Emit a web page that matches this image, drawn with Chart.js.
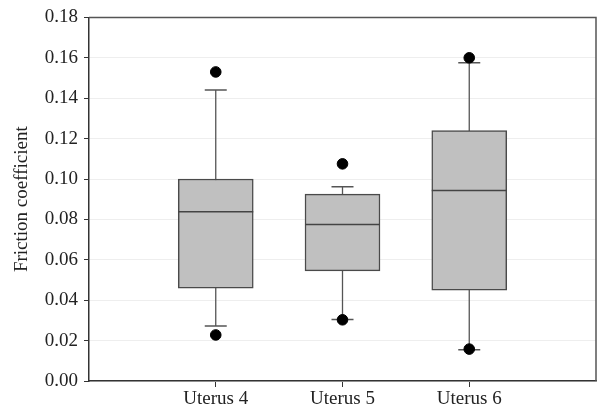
<!DOCTYPE html>
<html>
<head>
<meta charset="utf-8">
<script src="https://cdn.jsdelivr.net/npm/chart.js@4/dist/chart.umd.min.js"></script>
<style>
  html, body { margin: 0; padding: 0; background: #fff; }
  #wrap { width: 600px; height: 412px; }
</style>
</head>
<body>
<div id="wrap"><canvas id="boxChart"></canvas></div>
<script>
// ==========================
// DATA
// ==========================
const categories = ["Uterus 4", "Uterus 5", "Uterus 6"];
const positions = [1, 2, 3];
const q1 = [0.046, 0.0545, 0.045];
const q3 = [0.100, 0.0925, 0.124];
const medians = [0.0838, 0.0775, 0.0943];
const whiskerLow = [0.0272, 0.0305, 0.0155];
const whiskerHigh = [0.144, 0.0962, 0.1575];
const outliersLow = [0.0228, 0.0303, 0.0158];
const outliersHigh = [0.153, 0.1075, 0.160];
const yTicks = [0, 0.02, 0.04, 0.06, 0.08, 0.10, 0.12, 0.14, 0.16, 0.18];

// ==========================
// BUILD DATASETS
// ==========================
const boxes = positions.map((x, i) => ({ x: x, y: [q1[i], q3[i]] }));
const medianPts = positions.map((x, i) => ({ x: x, y: medians[i] }));

// whiskers: one vertical segment per box, null splits them
const whiskerLine = [];
positions.forEach((x, i) => {
  whiskerLine.push({ x: x, y: whiskerLow[i] });
  whiskerLine.push({ x: x, y: whiskerHigh[i] });
  whiskerLine.push({ x: x, y: null });
});

const caps = [];
positions.forEach((x, i) => {
  caps.push({ x: x, y: whiskerLow[i] });
  caps.push({ x: x, y: whiskerHigh[i] });
});

const outliers = [];
positions.forEach((x, i) => {
  outliers.push({ x: x, y: outliersLow[i] });
  outliers.push({ x: x, y: outliersHigh[i] });
});

// frame around the plot (top + right edges)
const frame = {
  id: "frame",
  afterDatasetsDraw(chart) {
    const a = chart.chartArea;
    const c = chart.ctx;
    c.save();
    c.strokeStyle = "#555";
    c.lineWidth = 1.5;
    c.beginPath();
    c.moveTo(a.left, a.top);
    c.lineTo(a.right, a.top);
    c.lineTo(a.right, a.bottom);
    c.stroke();
    c.restore();
  }
};

const serif = "'Liberation Serif', 'Times New Roman', serif";

new Chart(document.getElementById("boxChart"), {
  data: {
    datasets: [
      {
        type: "line",
        data: whiskerLine,
        borderColor: "#555",
        borderWidth: 1.3,
        pointRadius: 0,
        spanGaps: false,
        order: 4
      },
      {
        type: "bar",
        data: boxes,
        backgroundColor: "#c0c0c0",
        borderColor: "#4a4a4a",
        borderWidth: 1.5,
        borderSkipped: false,
        barThickness: 75,
        order: 3
      },
      {
        type: "scatter",
        data: medianPts,
        pointStyle: "line",
        pointRadius: 37.5,
        borderColor: "#444",
        pointBorderWidth: 1.5,
        order: 2
      },
      {
        type: "scatter",
        data: caps,
        pointStyle: "line",
        pointRadius: 11,
        borderColor: "#555",
        pointBorderWidth: 1.5,
        order: 2
      },
      {
        type: "scatter",
        data: outliers,
        pointStyle: "circle",
        pointRadius: 5.3,
        backgroundColor: "#000",
        borderColor: "#000",
        order: 1
      }
    ]
  },
  options: {
    responsive: true,
    maintainAspectRatio: false,
    animation: false,
    events: [],
    layout: { autoPadding: false, padding: { top: 16, right: 4, left: 11, bottom: 0 } },
    plugins: {
      legend: { display: false },
      tooltip: { enabled: false }
    },
    scales: {
      x: {
        type: "linear",
        min: 0,
        max: 4,
        offset: false,
        afterBuildTicks: s => { s.ticks = positions.map(v => ({ value: v })); },
        afterFit: s => { s.height = 31; },
        ticks: {
          callback: v => categories[positions.indexOf(v)] || "",
          color: "#222",
          font: { family: serif, size: 19 },
          padding: 1,
          maxRotation: 0
        },
        grid: { offset: false, drawOnChartArea: false, drawTicks: true, tickLength: 6, color: "#333" },
        border: { color: "#333", width: 1.5 }
      },
      y: {
        min: 0,
        max: 0.18,
        afterBuildTicks: s => { s.ticks = yTicks.map(v => ({ value: v })); },
        afterFit: s => { s.width = 78; },
        ticks: {
          callback: v => v.toFixed(2),
          color: "#222",
          font: { family: serif, size: 19 },
          padding: 6
        },
        grid: { color: "#eeeeee", tickColor: "#333", tickLength: 5 },
        border: { color: "#333", width: 1.5 },
        title: {
          display: true,
          text: "Friction coefficient",
          color: "#222",
          font: { family: serif, size: 19 },
          padding: 0
        }
      }
    }
  },
  plugins: [frame]
});
</script>
</body>
</html>
